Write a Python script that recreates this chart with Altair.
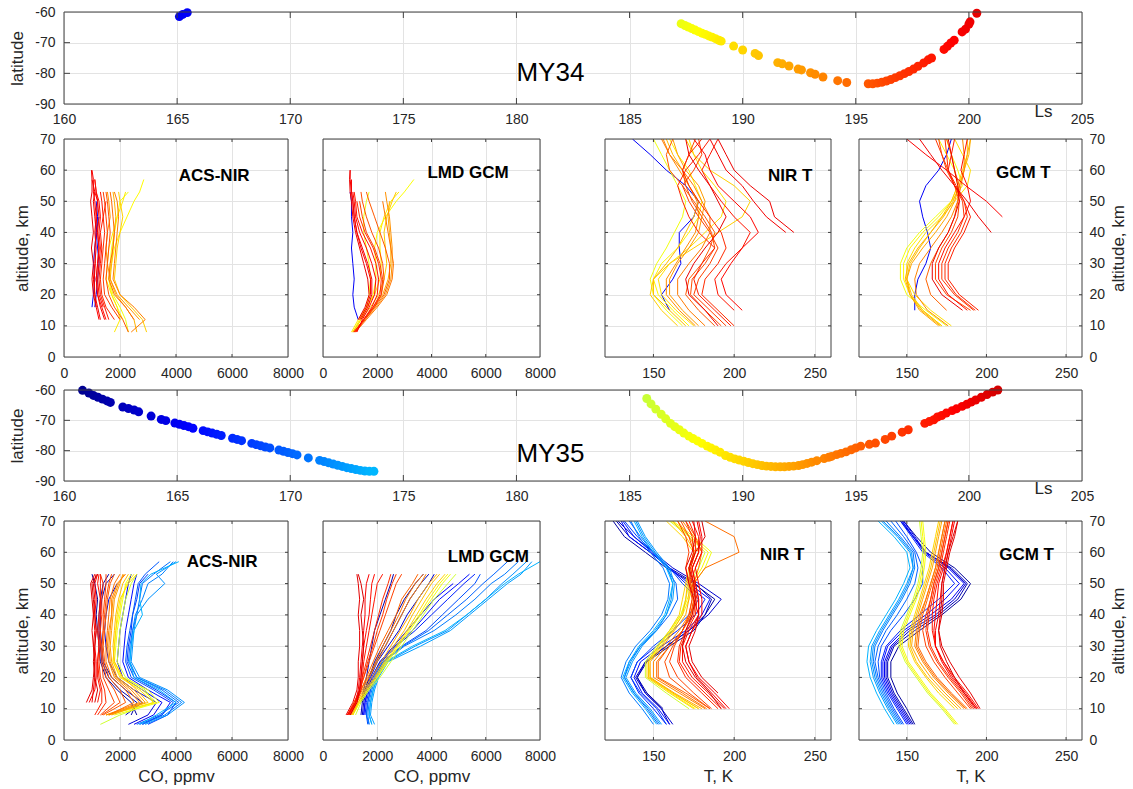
import altair as alt
import pandas as pd

N = None
FONT = "Liberation Sans"
FRAME = "#404040"

# Jet colour map stretched over Ls 160-205
JET = alt.Scale(
    domain=[160, 165.625, 176.875, 188.125, 199.375, 205],
    range=["#00007f", "#0000ff", "#00ffff", "#ffff00", "#ff0000", "#7f0000"],
    interpolate="rgb",
)

LS_TICKS = [160, 165, 170, 175, 180, 185, 190, 195, 200, 205]
LAT_TICKS = [-90, -80, -70, -60]
ALT_TICKS = [0, 10, 20, 30, 40, 50, 60, 70]
CO_TICKS = [0, 2000, 4000, 6000, 8000]
T_TICKS = [150, 200, 250]

# ---------------- occultation tracks: (Ls, latitude) ----------------
MY34_TRACK = [
    (165.10, -61.5), (165.25, -60.8), (165.45, -60.2),
    (187.28, -63.8), (187.45, -64.4), (187.60, -64.9), (187.75, -65.4), (187.90, -65.9),
    (188.05, -66.4), (188.20, -66.9), (188.35, -67.3), (188.50, -67.8), (188.65, -68.2),
    (188.80, -68.7), (188.95, -69.2), (189.05, -69.5),
    (189.60, -71.1), (190.00, -72.4), (190.55, -73.5), (190.70, -74.2), (191.55, -76.5),
    (191.75, -76.9), (192.05, -77.6), (192.45, -78.6), (192.60, -78.9), (193.00, -79.8),
    (193.20, -80.3), (193.55, -81.2), (194.20, -82.4), (194.60, -83.0),
    (195.55, -83.4), (195.75, -83.4), (195.95, -83.2), (196.15, -82.9), (196.35, -82.5),
    (196.55, -82.0), (196.75, -81.4), (196.95, -80.8), (197.15, -80.1), (197.35, -79.4),
    (197.55, -78.6), (197.75, -77.7), (198.00, -76.6), (198.20, -75.6), (198.35, -75.0),
    (198.90, -72.2), (199.05, -71.2), (199.20, -70.1), (199.35, -69.2), (199.70, -66.5),
    (199.85, -65.6), (200.00, -64.0), (200.05, -63.2), (200.35, -60.4),
]

MY35_TRACK = [
    (160.82, -60.1), (161.10, -61.0), (161.30, -61.8), (161.50, -62.4), (161.70, -63.0),
    (161.90, -63.6), (162.05, -64.1), (162.60, -65.6), (162.85, -66.1), (163.10, -66.6),
    (163.30, -67.2), (163.85, -68.6), (164.30, -69.7), (164.50, -70.1), (164.90, -70.9),
    (165.10, -71.3), (165.30, -71.7), (165.50, -72.1), (165.70, -72.6), (166.15, -73.4),
    (166.35, -73.8), (166.55, -74.2), (166.75, -74.6), (166.95, -75.0), (167.45, -75.9),
    (167.65, -76.3), (167.85, -76.7), (168.30, -77.6), (168.50, -78.0), (168.70, -78.4),
    (168.90, -78.8), (169.10, -79.1), (169.50, -79.8), (169.70, -80.2), (169.90, -80.6),
    (170.10, -81.0), (170.30, -81.4), (170.80, -82.4), (171.30, -83.2), (171.50, -83.6),
    (171.70, -84.0), (171.90, -84.4), (172.10, -84.8), (172.30, -85.2), (172.50, -85.6),
    (172.70, -85.9), (172.90, -86.2), (173.10, -86.5), (173.30, -86.7), (173.50, -86.8),
    (173.70, -86.8),
    (185.76, -62.8), (185.95, -64.6), (186.16, -66.3), (186.40, -68.0), (186.60, -69.5),
    (186.81, -71.0), (187.00, -72.1), (187.20, -73.1), (187.40, -74.2), (187.62, -75.2),
    (187.80, -76.0), (188.00, -76.8), (188.20, -77.6), (188.43, -78.5), (188.60, -79.1),
    (188.80, -79.8), (189.00, -80.5), (189.24, -81.6), (189.45, -82.2), (189.65, -82.7),
    (189.85, -83.1), (190.05, -83.5), (190.25, -83.9), (190.45, -84.3), (190.65, -84.6),
    (190.85, -84.9), (191.05, -85.1), (191.25, -85.2), (191.45, -85.3), (191.66, -85.3),
    (191.85, -85.3), (192.05, -85.2), (192.25, -85.1), (192.47, -84.9), (192.65, -84.6),
    (192.85, -84.2), (193.05, -83.8), (193.28, -83.3), (193.60, -82.6), (193.80, -82.2),
    (193.93, -81.9), (194.15, -81.3), (194.35, -80.9), (194.57, -80.4), (194.80, -79.7),
    (195.00, -79.1), (195.22, -78.5), (195.60, -77.9), (195.87, -77.5), (196.30, -76.3),
    (196.59, -75.2), (197.05, -73.9), (197.32, -73.1), (198.05, -71.0), (198.25, -70.4),
    (198.45, -69.8), (198.61, -68.9), (198.80, -68.4), (199.00, -67.6), (199.26, -66.8),
    (199.45, -66.2), (199.70, -65.4), (199.91, -64.7), (200.10, -64.0), (200.30, -63.3),
    (200.55, -62.4), (200.80, -61.5), (201.05, -60.7), (201.28, -60.0),
]

# ---------------- vertical profiles: (Ls, values on the altitude grid) ----------------
CO_ALT = [5, 8, 12, 16, 20, 25, 30, 35, 40, 45, 50, 53, 57, 60]
T_ALT = [5, 10, 15, 20, 25, 30, 35, 40, 45, 50, 55, 60, 65, 70]

MY34_ACS_CO = [
    (165.2, [N, N, N, 1000, 1050, 1100, 1050, 1100, 1150, 1200, 1150, N, N, N]),
    (165.4, [N, N, N, 1100, 1150, 1200, 1250, 1200, 1150, 1250, N, N, N, N]),
    (187.4, [N, 2300, 2200, 2000, 1750, 1600, 1650, 1700, 1800, 1900, 2000, 2300, N, N]),
    (188.2, [N, N, 2100, 1900, 1700, 1600, 1700, 1800, 2000, 2250, 2500, 2700, 2850, N]),
    (189.0, [N, 1800, 2000, 1900, 1700, 1500, 1550, 1600, 1750, 1900, 2100, 2200, N, N]),
    (190.2, [N, 2950, 2800, 2400, 2000, 1800, 1850, 1900, 2000, 2100, 2000, 1950, N, N]),
    (191.5, [N, 2600, 2500, 2200, 1850, 1650, 1700, 1750, 1800, 1850, 1800, 1750, N, N]),
    (192.8, [N, N, 2700, 2300, 1900, 1650, 1550, 1500, 1550, 1650, 1600, 1550, N, N]),
    (193.8, [N, 2400, 2900, 2500, 2000, 1750, 1800, 1850, 1900, 1950, 1900, 1800, N, N]),
    (194.8, [N, N, 2500, 2200, 1800, 1600, 1650, 1750, 1800, 1750, 1700, 1650, N, N]),
    (195.8, [N, 2300, 2100, 1800, 1600, 1500, 1550, 1600, 1650, 1600, 1550, 1500, N, N]),
    (196.8, [N, N, 2000, 1700, 1450, 1400, 1450, 1500, 1550, 1500, 1450, 1400, N, N]),
    (197.6, [N, N, 1800, 1500, 1350, 1300, 1350, 1400, 1450, 1400, 1500, N, N, N]),
    (198.4, [N, N, 1600, 1450, 1300, 1250, 1300, 1350, 1300, 1400, 1350, 1300, N, N]),
    (198.8, [N, N, 1500, 1350, 1200, 1150, 1200, 1250, 1200, 1250, 1200, 1150, 1100, N]),
    (199.0, [N, N, N, 1400, 1250, 1200, 1250, 1300, 1250, 1300, 1250, 1150, 1100, N]),
    (199.3, [N, N, 1250, 1150, 1100, 1050, 1100, 1150, 1100, 1150, 1100, 1050, 1050, 1000]),
    (199.6, [N, N, 1450, 1300, 1200, 1150, 1200, 1250, 1200, 1150, 1200, 1100, N, N]),
    (200.0, [N, N, 1300, 1200, 1100, 1080, 1120, 1100, 1150, 1100, 1050, 1100, 1000, N]),
    (200.3, [N, N, N, 1150, 1050, 1000, 1050, 980, 1050, 1000, 950, 1000, 1000, 980]),
]

MY34_GCM_CO = [
    (165.3, [N, N, 1300, 1150, 1100, 1150, 1100, 1050, 1100, 1050, 1050, 1000, N, N]),
    (187.3, [N, 1150, 1400, 1600, 1700, 1750, 1700, 1600, 1500, 1500, 1600, 1700, N, N]),
    (188.0, [N, 1100, 1350, 1650, 1850, 1950, 1950, 1900, 2000, 2300, 2700, 3000, 3350, N]),
    (189.0, [N, 1050, 1300, 1600, 1900, 2100, 2150, 2100, 2100, 2250, 2500, 2800, N, N]),
    (190.5, [N, 1100, 1400, 1750, 2050, 2250, 2350, 2300, 2250, 2350, 2550, 2700, N, N]),
    (191.8, [N, 1150, 1500, 1850, 2200, 2400, 2500, 2500, 2450, 2400, 2450, N, N, N]),
    (193.0, [N, 1100, 1550, 1950, 2300, 2500, 2550, 2550, 2500, 2450, 2350, 2300, N, N]),
    (194.2, [N, 1200, 1600, 2000, 2350, 2550, 2600, 2500, 2400, 2300, 2200, N, N, N]),
    (195.5, [N, 1150, 1500, 1900, 2250, 2450, 2450, 2300, 2100, 1900, 1700, 1600, N, N]),
    (196.0, [N, 1150, 1500, 1850, 2150, 2250, 2200, 2050, 1800, 1600, 1450, 1400, N, N]),
    (196.5, [N, 1200, 1550, 1900, 2150, 2200, 2100, 1900, 1600, 1450, 1350, N, N, N]),
    (197.5, [N, 1150, 1500, 1850, 2100, 2150, 2050, 1850, 1550, 1350, 1250, N, N, N]),
    (198.5, [N, 1200, 1500, 1800, 2000, 2050, 1950, 1750, 1450, 1250, 1200, 1150, N, N]),
    (199.2, [N, 1250, 1450, 1700, 1900, 1950, 1800, 1600, 1350, 1200, 1150, 1100, N, N]),
    (199.5, [N, N, 1350, 1600, 1750, 1750, 1600, 1400, 1250, 1150, 1100, 1050, 1000, 1000]),
    (199.8, [N, N, 1400, 1650, 1800, 1800, 1650, 1450, 1250, 1150, 1100, 1050, 1050, N]),
    (200.3, [N, N, 1300, 1550, 1700, 1650, 1500, 1350, 1200, 1100, 1050, 1000, 980, 1000]),
]

MY34_NIR_T = [
    (165.3, [N, N, 160, 155, 162, 167, 166, 166, 175, 178, 170, 158, 148, 137]),
    (187.5, [N, 168, 158, 150, 148, 152, 158, 163, 168, 170, 165, 160, 155, 150]),
    (188.5, [N, 172, 162, 153, 150, 155, 165, 172, 178, 180, 176, 172, 165, 160]),
    (189.5, [N, 175, 164, 155, 153, 160, 172, 182, 192, 195, 188, 180, 175, 172]),
    (190.3, [N, 165, 155, 148, 150, 160, 175, 190, 205, 210, 200, 185, 175, 170]),
    (191.2, [N, 170, 160, 150, 150, 158, 165, 170, 175, 178, 172, 168, 162, 158]),
    (192.5, [N, 178, 168, 160, 160, 165, 172, 178, 180, 182, 178, 170, 165, 162]),
    (193.2, [N, 176, 166, 158, 158, 164, 170, 176, 178, 177, 172, 166, 160, 156]),
    (194.0, [N, 182, 172, 165, 165, 172, 180, 185, 185, 180, 175, 168, 160, 155]),
    (195.5, [N, 188, 178, 170, 172, 180, 185, 188, 182, 175, 168, 160, 158, 162]),
    (196.0, [N, 192, 182, 173, 174, 182, 188, 186, 180, 174, 170, 168, 172, 176]),
    (196.5, [N, 195, 185, 175, 178, 185, 190, 185, 178, 172, 168, 175, 180, 178]),
    (197.5, [N, 200, 190, 180, 182, 190, 195, 192, 185, 178, 172, 168, 172, 180]),
    (198.0, [N, 198, 188, 178, 175, 180, 188, 178, 172, 168, 165, 170, 178, 185]),
    (198.5, [N, N, 200, 190, 188, 195, 205, 210, 200, 192, 185, 180, 185, 190]),
    (199.2, [N, N, 205, 195, 192, 198, 205, 215, 210, 200, 190, 185, 182, 175]),
    (199.8, [N, N, N, N, N, N, N, 232, 220, 212, 205, 195, 190, 185]),
    (200.1, [N, N, N, N, N, N, N, 237, 225, 222, 210, 200, 195, 190]),
    (200.3, [N, 190, 182, 172, 170, 175, 182, 190, 195, 190, 185, 178, 172, 170]),
]

MY34_GCM_T = [
    (165.3, [N, N, 155, 155, 157, 162, 165, 163, 160, 158, 162, 170, 175, 178]),
    (187.5, [N, 175, 162, 150, 146, 146, 150, 158, 168, 178, 185, 182, 178, 175]),
    (188.5, [N, 172, 160, 152, 148, 148, 152, 160, 170, 178, 182, 180, 175, 170]),
    (189.5, [N, 178, 165, 155, 150, 150, 155, 162, 172, 180, 188, 190, 185, 180]),
    (190.8, [N, 172, 160, 153, 150, 152, 158, 165, 172, 178, 182, 185, 188, 188]),
    (191.5, [N, 171, 159, 152, 149, 151, 157, 165, 173, 179, 183, 186, 189, 190]),
    (192.0, [N, 170, 158, 152, 150, 153, 160, 168, 175, 180, 183, 186, 188, 190]),
    (193.5, [N, 176, 163, 156, 155, 158, 165, 172, 178, 182, 184, 186, 186, 185]),
    (195.0, [N, N, 175, 165, 162, 165, 170, 176, 180, 182, 183, 180, 178, 175]),
    (196.2, [N, N, 190, 175, 168, 168, 172, 178, 182, 183, 180, 176, 172, 170]),
    (197.0, [N, N, 192, 180, 172, 172, 176, 182, 186, 185, 180, 175, 172, 168]),
    (197.5, [N, N, 193, 181, 174, 174, 178, 184, 188, 186, 181, 176, 175, 174]),
    (198.0, [N, N, 195, 183, 176, 176, 180, 186, 190, 186, 180, 176, 178, 180]),
    (198.8, [N, N, 188, 176, 170, 170, 174, 180, 186, 190, 188, 184, 186, 188]),
    (199.5, [N, N, N, N, N, N, N, N, 210, 200, 187, 175, 162, 150]),
    (200.0, [N, N, N, N, N, N, N, 203, 195, 188, 180, 172, 165, 158]),
    (200.3, [N, N, 185, 172, 166, 166, 170, 176, 180, 183, 182, 180, 178, 176]),
]

MY35_ACS_CO = [
    (161.2, [N, 2600, 2400, 1900, 1500, 1300, 1250, 1200, 1150, 1200, 1100, 1000, N, N]),
    (162.0, [N, 2400, 2600, 2000, 1600, 1350, 1300, 1250, 1250, 1300, 1400, 1600, N, N]),
    (162.5, [N, 2200, 2800, 2200, 1700, 1400, 1350, 1300, 1300, 1350, 1500, 1800, N, N]),
    (164.0, [2300, 3000, 3300, 2500, 1900, 1600, 1500, 1450, 1500, 1600, 1900, N, N, N]),
    (165.0, [2500, 3200, 3500, 2800, 2100, 1900, 1950, 2000, 2100, 2200, 2300, 2400, N, N]),
    (166.0, [2800, 3500, 3800, 3000, 2300, 2100, 2150, 2200, 2300, 2400, 2500, 2600, N, N]),
    (168.0, [3000, 3700, 4000, 3300, 2500, 2250, 2300, 2400, 2450, 2600, 2700, 3000, N, N]),
    (169.5, [2700, 3500, 3900, 3200, 2400, 2200, 2250, 2350, 2450, 2550, 2650, 2900, 3400, N]),
    (170.5, [2600, 3400, 4100, 3500, 2600, 2300, 2350, 2450, 2600, 2700, 2800, 3200, 3800, N]),
    (171.3, [2800, 3600, 4200, 3600, 2600, 2350, 2400, 2450, 2550, 2800, 3000, 3500, 3900, N]),
    (172.0, [2900, 3700, 4300, 3700, 2700, 2400, 2450, 2500, 2600, 3000, 3600, 3300, 4000, N]),
    (173.5, [2700, 3300, 4000, 3400, 2500, 2350, 2400, 2500, 2800, 2700, 2750, 3100, 4100, N]),
    (186.0, [1300, 2000, 3200, 2900, 2200, 1900, 1950, 2000, 2100, 2200, 2400, 2600, N, N]),
    (187.5, [N, 1800, 3400, 3000, 2100, 1800, 1850, 1900, 2000, 2100, 2200, 2400, N, N]),
    (188.5, [N, 1500, 3300, 2800, 2050, 1750, 1800, 1850, 1950, 2050, 2250, 2500, N, N]),
    (189.5, [N, 1600, 3200, 2700, 2000, 1750, 1800, 1850, 1900, 2000, 2300, 2600, N, N]),
    (191.0, [N, 1500, 3000, 2600, 2100, 1800, 1750, 1800, 1850, 1950, 2100, 2300, N, N]),
    (192.5, [N, 1700, 2900, 2500, 1900, 1700, 1650, 1700, 1750, 1800, 2000, 2100, N, N]),
    (193.0, [N, 1600, 2800, 2400, 1850, 1650, 1600, 1650, 1700, 1750, 1950, 2150, N, N]),
    (193.5, [N, 1500, 2700, 2300, 1800, 1600, 1550, 1600, 1700, 1700, 1900, 2200, N, N]),
    (194.5, [N, 1600, 2500, 2200, 1700, 1500, 1500, 1550, 1600, 1650, 1800, 2000, N, N]),
    (195.5, [N, 1400, 2200, 2000, 1600, 1450, 1400, 1450, 1500, 1550, 1650, 1800, N, N]),
    (196.0, [N, 1350, 2000, 1800, 1500, 1400, 1350, 1400, 1450, 1500, 1600, 1700, N, N]),
    (196.5, [N, 1300, 1800, 1600, 1400, 1350, 1350, 1400, 1400, 1450, 1500, 1500, N, N]),
    (197.5, [N, 1200, 1500, 1450, 1300, 1250, 1300, 1300, 1350, 1350, 1400, 1300, N, N]),
    (198.0, [N, 1100, 1350, 1350, 1250, 1200, 1250, 1250, 1300, 1300, 1300, 1300, N, N]),
    (198.5, [N, N, 1200, 1300, 1200, 1200, 1250, 1200, 1250, 1300, 1200, 1250, N, N]),
    (199.5, [N, N, 900, 1100, 1150, 1150, 1100, 1150, 1100, 1150, 1100, 1200, N, N]),
    (200.0, [N, N, 1000, 1050, 1100, 1100, 1050, 1100, 1050, 1100, 1050, 1150, N, N]),
    (200.5, [N, N, 800, 1000, 1050, 1100, 1050, 1000, 1050, 1000, 950, 1100, N, N]),
    (201.1, [N, N, 1100, 1200, 1100, 1050, 1100, 1150, 1100, 1050, 1000, 1200, N, N]),
]

MY35_GCM_CO = [
    (161.5, [N, N, 1450, 1550, 1700, 1900, 2200, 2500, 2700, 3000, 3400, 3700, N, N]),
    (162.2, [N, N, 1400, 1500, 1600, 1700, 1800, 1900, 2100, 2300, 2500, 2600, N, N]),
    (162.8, [N, 1400, 1450, 1550, 1700, 1950, 2300, 2600, 2900, 3200, 3600, 3900, N, N]),
    (163.5, [N, 1450, 1500, 1600, 1750, 2000, 2400, 2800, 3100, 3500, 3900, 4100, N, N]),
    (165.5, [N, 1500, 1550, 1650, 1800, 2100, 2600, 3100, 3600, 4100, 4800, N, N, N]),
    (166.2, [N, 1500, 1550, 1650, 1800, 2100, 2650, 3300, 3800, 4300, 5000, 5400, N, N]),
    (167.0, [N, 1550, 1600, 1700, 1850, 2150, 2700, 3400, 4000, 4600, 5200, 5600, N, N]),
    (169.0, [1650, 1600, 1650, 1750, 1900, 2200, 2900, 3800, 4400, 5000, 5600, 5800, N, N]),
    (170.0, [1700, 1600, 1650, 1750, 1900, 2200, 2950, 3900, 4600, 5300, 5900, 6300, 6800, N]),
    (171.0, [1700, 1650, 1700, 1800, 1950, 2250, 3000, 4100, 4900, 5600, 6200, 6700, 7200, N]),
    (172.0, [1800, 1700, 1750, 1850, 2000, 2350, 3400, 4600, 5300, 6000, 6600, 7000, 7500, N]),
    (172.5, [1900, 1750, 1800, 1900, 2050, 2400, 3600, 4700, 5400, 6100, 6800, 7300, 7700, N]),
    (173.5, [1800, 1700, 1750, 1850, 2000, 2300, 3300, 4500, 5300, 6000, 6700, 7200, 8000, N]),
    (186.0, [N, 1200, 1400, 1700, 2100, 2500, 2900, 3300, 3700, 4100, 4600, 4900, N, N]),
    (187.5, [N, 1100, 1350, 1650, 2000, 2400, 2800, 3200, 3600, 4000, 4400, 4700, N, N]),
    (188.5, [N, 1100, 1350, 1650, 2000, 2350, 2750, 3150, 3550, 3900, 4300, 4600, N, N]),
    (190.0, [N, 1100, 1300, 1600, 1950, 2300, 2700, 3100, 3450, 3800, 4200, 4500, N, N]),
    (191.0, [N, 1050, 1300, 1550, 1900, 2250, 2600, 3000, 3300, 3650, 4000, 4300, N, N]),
    (192.0, [N, 1050, 1250, 1500, 1800, 2150, 2500, 2850, 3200, 3500, 3900, 4200, N, N]),
    (193.5, [N, 1000, 1200, 1450, 1700, 2000, 2300, 2600, 2900, 3200, 3600, 3800, N, N]),
    (194.2, [N, 1000, 1200, 1400, 1650, 1950, 2200, 2500, 2800, 3050, 3400, 3700, N, N]),
    (195.0, [N, 950, 1150, 1400, 1600, 1850, 2100, 2400, 2700, 2900, 3300, 3500, N, N]),
    (196.5, [N, 900, 1150, 1350, 1500, 1700, 1900, 2100, 2300, 2500, 2700, 2900, N, N]),
    (197.0, [N, 900, 1150, 1350, 1500, 1650, 1850, 2000, 2200, 2350, 2550, 2700, N, N]),
    (197.5, [N, 950, 1200, 1350, 1450, 1600, 1750, 1900, 2050, 2200, 2400, 2500, N, N]),
    (198.5, [N, 1000, 1250, 1400, 1450, 1500, 1600, 1700, 1800, 1900, 2000, 2200, N, N]),
    (199.0, [N, 950, 1200, 1350, 1400, 1450, 1500, 1600, 1700, 1750, 1800, 1900, N, N]),
    (199.5, [N, 900, 1200, 1300, 1350, 1400, 1450, 1500, 1550, 1550, 1600, 1700, N, N]),
    (200.5, [N, 850, 1100, 1250, 1300, 1300, 1350, 1350, 1300, 1350, 1300, 1250, N, N]),
    (201.1, [N, 1000, 1250, 1350, 1400, 1450, 1500, 1450, 1400, 1500, 1400, 1300, N, N]),
]

MY35_NIR_T = [
    (161.5, [N, 156, 146, 140, 146, 160, 175, 182, 188, 175, 158, 145, 132, 125]),
    (162.5, [160, 155, 145, 139, 145, 158, 172, 182, 186, 176, 160, 148, 135, 127]),
    (163.5, [162, 155, 145, 140, 145, 158, 172, 184, 192, 178, 162, 150, 138, 128]),
    (166.0, [160, 153, 143, 138, 142, 155, 170, 180, 185, 172, 160, 148, 135, 130]),
    (167.0, [158, 150, 141, 136, 140, 152, 165, 176, 182, 170, 160, 149, 138, 131]),
    (168.5, [158, 152, 142, 136, 140, 150, 162, 172, 178, 168, 160, 150, 140, 132]),
    (170.0, [153, 146, 138, 132, 135, 142, 152, 160, 165, 164, 158, 150, 142, 135]),
    (171.0, [150, 143, 135, 130, 133, 139, 148, 155, 159, 160, 156, 148, 141, 136]),
    (172.0, [154, 147, 138, 132, 136, 142, 151, 158, 161, 162, 159, 151, 144, 139]),
    (172.5, [155, 148, 139, 133, 137, 143, 152, 158, 162, 163, 160, 152, 145, 140]),
    (173.5, [152, 145, 137, 131, 135, 141, 150, 157, 160, 162, 158, 150, 143, 138]),
    (186.0, [N, 172, 158, 145, 145, 152, 160, 167, 170, 172, 178, 182, 172, 160]),
    (187.5, [N, 178, 162, 148, 147, 154, 162, 168, 172, 175, 182, 186, 175, 162]),
    (188.5, [N, 176, 161, 147, 147, 153, 161, 167, 171, 174, 180, 184, 173, 161]),
    (190.0, [N, 175, 160, 146, 146, 153, 160, 166, 168, 170, 172, 175, 168, 158]),
    (191.0, [N, 178, 162, 147, 147, 155, 162, 168, 170, 171, 173, 176, 170, 162]),
    (192.0, [N, 180, 163, 148, 148, 156, 163, 170, 172, 172, 174, 178, 172, 165]),
    (193.5, [N, 182, 166, 150, 150, 158, 166, 172, 174, 175, 178, 180, 175, 168]),
    (194.5, [N, 183, 168, 152, 152, 160, 168, 173, 176, 175, 182, 203, 200, 182]),
    (195.0, [N, 185, 170, 153, 153, 160, 168, 174, 175, 173, 176, 180, 176, 170]),
    (196.0, [N, 185, 172, 160, 157, 162, 168, 173, 175, 173, 172, 175, 172, 167]),
    (196.5, [N, 186, 175, 165, 160, 163, 168, 172, 174, 172, 170, 172, 170, 165]),
    (197.5, [N, 190, 180, 170, 165, 166, 170, 175, 176, 174, 172, 175, 174, 170]),
    (198.0, [N, 192, 182, 172, 166, 167, 171, 176, 177, 175, 173, 176, 176, 172]),
    (198.5, [N, 194, 184, 174, 168, 168, 172, 178, 178, 176, 174, 178, 178, 174]),
    (199.5, [N, 197, 188, 178, 172, 170, 174, 180, 180, 178, 176, 180, 180, 178]),
    (200.0, [N, 195, 186, 177, 172, 170, 174, 178, 178, 176, 174, 178, 179, 177]),
    (200.5, [N, N, 190, 180, 174, 172, 176, 178, 175, 172, 170, 174, 176, 175]),
    (201.1, [N, 192, 185, 176, 170, 168, 170, 174, 176, 175, 172, 176, 182, 180]),
]

MY35_GCM_T = [
    (161.2, [155, 150, 144, 140, 140, 145, 158, 172, 184, 190, 180, 165, 156, 148]),
    (162.5, [154, 148, 142, 138, 138, 142, 155, 170, 182, 188, 178, 162, 154, 146]),
    (163.8, [153, 147, 141, 137, 137, 141, 152, 168, 180, 187, 177, 162, 154, 147]),
    (165.0, [152, 146, 140, 136, 136, 140, 150, 165, 178, 186, 176, 162, 155, 148]),
    (166.0, [151, 145, 139, 135, 135, 138, 148, 162, 174, 183, 174, 161, 154, 147]),
    (167.0, [150, 144, 138, 134, 134, 137, 146, 158, 170, 180, 172, 160, 153, 146]),
    (169.0, [148, 142, 137, 133, 132, 134, 140, 148, 155, 160, 160, 156, 150, 143]),
    (170.0, [147, 141, 136, 132, 130, 132, 137, 144, 150, 155, 157, 155, 148, 140]),
    (171.0, [146, 140, 135, 131, 129, 130, 135, 141, 147, 152, 155, 154, 146, 137]),
    (172.0, [145, 139, 134, 130, 128, 129, 134, 140, 146, 151, 154, 153, 145, 135]),
    (172.5, [144, 138, 133, 129, 127, 128, 133, 139, 145, 150, 154, 152, 144, 134]),
    (173.5, [142, 136, 131, 127, 125, 126, 131, 137, 143, 148, 152, 150, 142, 132]),
    (186.0, [180, 172, 163, 156, 149, 145, 146, 150, 154, 157, 159, 160, 159, 158]),
    (187.5, [182, 174, 165, 158, 151, 147, 148, 152, 156, 159, 161, 162, 161, 160]),
    (188.5, [181, 173, 164, 157, 150, 146, 147, 151, 155, 158, 160, 161, 160, 159]),
    (190.0, [N, 180, 170, 162, 155, 151, 152, 155, 158, 161, 164, 166, 168, 170]),
    (191.0, [N, 182, 172, 163, 156, 152, 153, 156, 159, 162, 165, 167, 169, 171]),
    (192.0, [N, 184, 174, 165, 158, 153, 154, 157, 160, 163, 166, 168, 170, 172]),
    (193.5, [N, 186, 176, 167, 160, 155, 156, 158, 162, 165, 168, 170, 172, 174]),
    (194.2, [N, 187, 177, 168, 161, 156, 157, 159, 162, 165, 168, 170, 172, 174]),
    (195.0, [N, 188, 178, 169, 162, 157, 158, 160, 163, 166, 169, 171, 173, 175]),
    (196.5, [N, 190, 182, 174, 167, 162, 160, 162, 165, 167, 170, 172, 174, 176]),
    (197.0, [N, 191, 184, 176, 169, 164, 162, 163, 165, 167, 170, 172, 174, 176]),
    (197.5, [N, 192, 185, 177, 170, 165, 163, 164, 166, 168, 171, 173, 175, 177]),
    (198.5, [N, 195, 188, 180, 173, 168, 166, 166, 167, 169, 172, 175, 177, 179]),
    (199.0, [N, 194, 187, 179, 173, 168, 167, 168, 169, 170, 173, 175, 177, 179]),
    (199.5, [N, 194, 186, 178, 172, 168, 168, 170, 171, 172, 174, 176, 178, 180]),
    (200.5, [N, 196, 190, 183, 177, 172, 170, 172, 173, 173, 175, 177, 180, 182]),
    (201.1, [N, 193, 186, 180, 175, 171, 170, 171, 172, 172, 174, 176, 179, 182]),
]


def profile_rows(alts, profiles):
    rows = []
    for pid, (ls, vals) in enumerate(profiles):
        for a, v in zip(alts, vals):
            if v is not None:
                rows.append({"pid": pid, "Ls": ls, "alt": a, "val": v})
    return pd.DataFrame(rows).sort_values(["Ls", "pid", "alt"])


def frame_layers(X, Y, xcol, ycol, xvals, yvals, xdom, ydom, length):
    """Box outline drawn above the grid plus short inward-pointing ticks."""
    box = alt.Chart(pd.DataFrame({xcol: [xdom[0]], xcol + "2": [xdom[1]],
                                  ycol: [ydom[0]], ycol + "2": [ydom[1]]})).mark_rect(
        fillOpacity=0, stroke=FRAME, strokeWidth=1
    ).encode(x=X, x2=alt.X2(xcol + "2"), y=Y, y2=alt.Y2(ycol + "2"))
    size = (2 * length) ** 2
    sides = [
        ([{xcol: v, ycol: ydom[0]} for v in xvals], "M0,0L0,-1"),  # bottom edge, pointing up
        ([{xcol: v, ycol: ydom[1]} for v in xvals], "M0,0L0,1"),   # top edge, pointing down
        ([{xcol: xdom[0], ycol: v} for v in yvals], "M0,0L1,0"),   # left edge, pointing right
        ([{xcol: xdom[1], ycol: v} for v in yvals], "M0,0L-1,0"),  # right edge, pointing left
    ]
    out = [box]
    for rows, path in sides:
        out.append(
            alt.Chart(pd.DataFrame(rows)).mark_point(
                shape=path, size=size, filled=False, stroke=FRAME, strokeWidth=1, opacity=1
            ).encode(x=X, y=Y)
        )
    return out


def track_panel(track, year, year_lat, w, h):
    df = pd.DataFrame(track, columns=["Ls", "lat"])
    X = alt.X(
        "Ls:Q",
        scale=alt.Scale(domain=[160, 205], nice=False, zero=False),
        axis=alt.Axis(values=LS_TICKS, title="Ls", titleX=979, titleY=7,
                      titleAlign="center", titleBaseline="middle", labelPadding=8),
    )
    Y = alt.Y(
        "lat:Q",
        scale=alt.Scale(domain=[-90, -60], nice=False, zero=False),
        axis=alt.Axis(values=LAT_TICKS, title="latitude", labelPadding=9, titlePadding=8,
                      labelExpr="'' + datum.value"),
    )
    pts = alt.Chart(df).mark_circle(size=80, opacity=1).encode(
        x=X, y=Y, color=alt.Color("Ls:Q", scale=JET, legend=None)
    )
    lbl = alt.Chart(pd.DataFrame({"Ls": [180.0], "lat": [year_lat], "t": [year]})).mark_text(
        align="left", baseline="middle", font=FONT, fontSize=26, color="black"
    ).encode(x=X, y=Y, text="t:N")
    frame = frame_layers(X, Y, "Ls", "lat", LS_TICKS[1:-1], [-80, -70], [160, 205], [-90, -60], 6)
    return alt.layer(pts, lbl, *frame).properties(width=w, height=h)


def profile_panel(alts, profiles, xdom, xticks, label, lx, ly, w, h, yside, xtitle):
    df = profile_rows(alts, profiles)
    if yside == "left":
        yaxis = alt.Axis(values=ALT_TICKS, title="altitude, km", labelPadding=9, titlePadding=8)
    elif yside == "right":
        yaxis = alt.Axis(values=ALT_TICKS, title="altitude, km", orient="right", labelPadding=7,
                         titlePadding=6, titleAngle=270, titleBaseline="top")
    else:
        yaxis = alt.Axis(values=ALT_TICKS, labels=False, title=None)
    xaxis = alt.Axis(values=xticks, title=xtitle, labelPadding=9, titlePadding=5, format="d")
    X = alt.X("val:Q", scale=alt.Scale(domain=xdom, nice=False, zero=False), axis=xaxis)
    Y = alt.Y("alt:Q", scale=alt.Scale(domain=[0, 70], nice=False, zero=False), axis=yaxis)
    lines = alt.Chart(df).mark_line(strokeWidth=1, clip=True).encode(
        x=X, y=Y,
        color=alt.Color("Ls:Q", scale=JET, legend=None),
        detail="pid:N",
        order=alt.Order("alt:Q"),
    )
    txt = alt.Chart(pd.DataFrame({"val": [lx], "alt": [ly], "t": [label]})).mark_text(
        align="left", baseline="middle", font=FONT, fontSize=17, fontWeight="bold", color="black"
    ).encode(x=X, y=Y, text="t:N")
    inner_x = [v for v in xticks if xdom[0] < v < xdom[1]]
    frame = frame_layers(X, Y, "val", "alt", inner_x, ALT_TICKS[1:-1], xdom, [0, 70], 3)
    return alt.layer(lines, txt, *frame).properties(width=w, height=h)


def spacer(w, h):
    return alt.Chart(pd.DataFrame({"s": [0]})).mark_point(opacity=0).encode(
        x=alt.X("s:Q", axis=None), y=alt.Y("s:Q", axis=None)
    ).properties(width=w, height=h)


def profile_row(sets, labels, h, titles):
    co_dom, t_dom = [0, 8000], [120, 260]
    p1 = profile_panel(CO_ALT, sets[0], co_dom, CO_TICKS, "ACS-NIR", *labels[0], 224, h, "left", titles[0])
    p2 = profile_panel(CO_ALT, sets[1], co_dom, CO_TICKS, "LMD GCM", *labels[1], 217, h, "none", titles[0])
    p3 = profile_panel(T_ALT, sets[2], t_dom, T_TICKS, "NIR T", *labels[2], 226, h, "none", titles[1])
    p4 = profile_panel(T_ALT, sets[3], t_dom, T_TICKS, "GCM T", *labels[3], 223, h, "right", titles[1])
    return alt.hconcat(p1, spacer(35, h), p2, spacer(65, h), p3, spacer(28, h), p4,
                       spacing=0, bounds="flush")


top34 = track_panel(MY34_TRACK, "MY34", -80.0, 1018, 92)
row34 = profile_row(
    [MY34_ACS_CO, MY34_GCM_CO, MY34_NIR_T, MY34_GCM_T],
    [(4100, 58), (3850, 59), (221, 58), (206, 59)],
    218, [None, None],
)
top35 = track_panel(MY35_TRACK, "MY35", -81.0, 1018, 91)
row35 = profile_row(
    [MY35_ACS_CO, MY35_GCM_CO, MY35_NIR_T, MY35_GCM_T],
    [(4380, 57), (4600, 58.4), (216, 59), (208, 59)],
    219, ["CO, ppmv", "T, K"],
)

chart = alt.vconcat(
    alt.vconcat(top34, row34, spacing=4),
    alt.vconcat(top35, row35, spacing=9),
    spacing=1,
).configure_axis(
    labelFont=FONT, labelFontSize=14, labelColor="#262626", labelFlush=False,
    titleFont=FONT, titleFontSize=17, titleFontWeight="normal", titleColor="#262626",
    gridColor="#e3e3e3", gridWidth=1, domain=False, ticks=False,
).configure_view(
    stroke="transparent",
).properties(
    padding={"left": 8, "top": 4, "right": 4, "bottom": 4},
    background="white",
)

chart.save("out.html", embed_options={"renderer": "svg", "actions": False})
